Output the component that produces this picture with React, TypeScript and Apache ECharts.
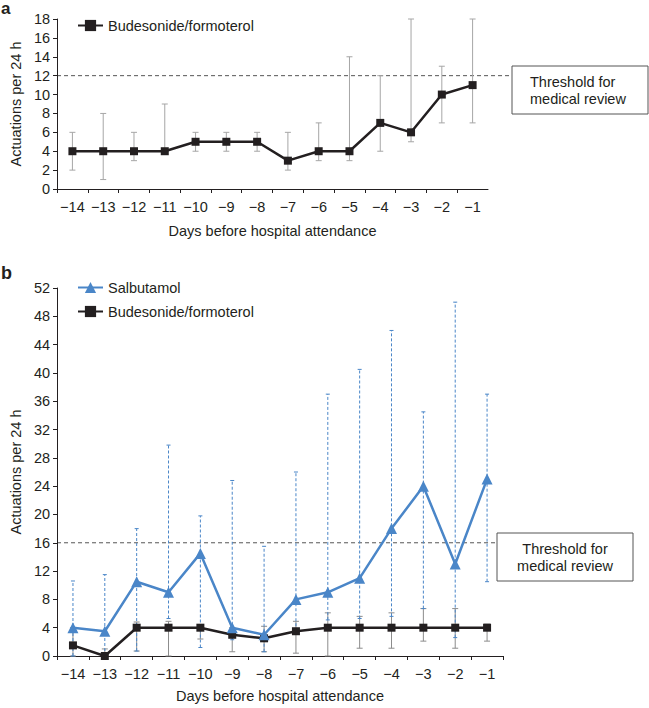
import React, { useEffect, useRef } from "react";
import * as echarts from "echarts";

const days = ["−14", "−13", "−12", "−11", "−10", "−9", "−8", "−7", "−6", "−5", "−4", "−3", "−2", "−1"];

// Panel a: budesonide/formoterol
const budA = [4, 4, 4, 4, 5, 5, 5, 3, 4, 4, 7, 6, 10, 11];
const budALow = [2, 1, 3, 4, 4, 4, 4, 2, 3, 3, 4, 5, 7, 7];
const budAHigh = [6, 8, 6, 9, 6, 6, 6, 6, 7, 14, 12, 18, 13, 18];
const thresholdA = 12;
const yTicksA = { min: 0, max: 18, interval: 2 };

// Panel b: salbutamol and budesonide/formoterol
const salB = [4, 3.5, 10.5, 9, 14.5, 4, 3, 8, 9, 11, 18, 24, 13, 25];
const salBLow = [0, 0, 0.7, 5.3, 1.2, 2.3, 0.6, 3.5, 5.1, 5.3, 5.6, 6.7, 2.6, 10.5];
const salBHigh = [10.6, 11.5, 18, 29.8, 19.8, 24.8, 15.5, 26, 37, 40.5, 46, 34.5, 50, 37];
const budB = [1.5, 0, 4, 4, 4, 3, 2.5, 3.5, 4, 4, 4, 4, 4, 4];
const budBLow = [0, 0, 0.7, 0, 2.4, 0.6, 0.6, 0.4, 0, 1.1, 1.1, 2.1, 1.1, 2.1];
const budBHigh = [4, 1, 4.8, 4.9, 4.4, 4, 4.2, 4.9, 6.1, 5.6, 6.1, 6.7, 6.7, 4.5];
const thresholdB = 16;
const yTicksB = { min: 0, max: 52, interval: 4 };

const SAL = "Salbutamol";
const BUD = "Budesonide/formoterol";
const FONT = "'Liberation Sans', Arial, Helvetica, sans-serif";
const TXT = "#231f20";
const BLUE = "#4a86c8";

function errData(lo: number[], hi: number[]) {
  return lo.map((l, i) => [i, l, hi[i]]);
}

function errSeries(name: string, idx: number, lo: number[], hi: number[], color: string, dashed: boolean, capW: number) {
  return {
    type: "custom",
    name: name + "-err",
    xAxisIndex: idx,
    yAxisIndex: idx,
    silent: true,
    z: 1,
    data: errData(lo, hi),
    encode: { x: 0, y: [1, 2] },
    renderItem: (params: any, api: any) => {
      const x = api.value(0);
      const p1 = api.coord([x, api.value(1)]);
      const p2 = api.coord([x, api.value(2)]);
      const style = { stroke: color, lineWidth: 1, lineDash: dashed ? [3, 2] : null };
      return {
        type: "group",
        children: [
          { type: "line", shape: { x1: p1[0], y1: p1[1], x2: p2[0], y2: p2[1] }, style },
          { type: "line", shape: { x1: p1[0] - capW, y1: p1[1], x2: p1[0] + capW, y2: p1[1] }, style: { stroke: color, lineWidth: 1 } },
          { type: "line", shape: { x1: p2[0] - capW, y1: p2[1], x2: p2[0] + capW, y2: p2[1] }, style: { stroke: color, lineWidth: 1 } },
        ],
      };
    },
  };
}

function thresholdSeries(idx: number, value: number, endX: number) {
  return {
    type: "custom",
    name: "threshold" + idx,
    xAxisIndex: idx,
    yAxisIndex: idx,
    silent: true,
    z: 0,
    data: [[0, value]],
    encode: { x: 0, y: 1 },
    renderItem: (params: any, api: any) => {
      const p = api.coord([0, api.value(1)]);
      const cs = params.coordSys;
      return {
        type: "line",
        shape: { x1: cs.x, y1: p[1], x2: endX, y2: p[1] },
        style: { stroke: "#555", lineWidth: 1, lineDash: [4, 3] },
      };
    },
  };
}

function xAxisCfg(idx: number, nameGap: number) {
  return {
    type: "category",
    gridIndex: idx,
    data: days,
    boundaryGap: true,
    name: "Days before hospital attendance",
    nameLocation: "middle",
    nameGap,
    nameTextStyle: { fontFamily: FONT, fontSize: 14.5, color: TXT },
    axisLine: { lineStyle: { color: TXT, width: 1 } },
    axisTick: { show: true, alignWithLabel: false, length: 4, lineStyle: { color: TXT } },
    axisLabel: { fontFamily: FONT, fontSize: 14.5, color: TXT, margin: 10, interval: 0 },
    splitLine: { show: false },
  };
}

function yAxisCfg(idx: number, t: { min: number; max: number; interval: number }) {
  return {
    type: "value",
    gridIndex: idx,
    min: t.min,
    max: t.max,
    interval: t.interval,
    name: "Actuations per 24 h",
    nameLocation: "middle",
    nameGap: 32,
    nameTextStyle: { fontFamily: FONT, fontSize: 14.5, color: TXT },
    axisLine: { show: true, lineStyle: { color: TXT, width: 1 } },
    axisTick: { show: true, length: 4, lineStyle: { color: TXT } },
    axisLabel: { fontFamily: FONT, fontSize: 14.5, color: TXT, margin: 7 },
    splitLine: { show: false },
  };
}

function boxGraphic(x: number, y: number, w: number, h: number, textX: number, align: string) {
  return {
    type: "group",
    children: [
      { type: "rect", shape: { x, y, width: w, height: h }, style: { fill: "#fff", stroke: "#555", lineWidth: 1 } },
      {
        type: "text",
        x: textX,
        y: y + h / 2,
        style: {
          text: "Threshold for\nmedical review",
          fontFamily: FONT,
          fontSize: 14.5,
          fill: TXT,
          align,
          verticalAlign: "middle",
          lineHeight: 17,
        },
      },
    ],
  };
}

export default function App() {
  const ref = useRef<HTMLDivElement>(null);
  useEffect(() => {
    if (!ref.current) return;
    const chart = echarts.init(ref.current, null, { renderer: "svg" });
    const option: any = {
      animation: false,
      backgroundColor: "#fff",
      grid: [
        { left: 52, top: 19, width: 436, height: 170 },
        { left: 52, top: 288, width: 451, height: 372 },
      ],
      xAxis: [xAxisCfg(0, 34), xAxisCfg(1, 32)],
      yAxis: [yAxisCfg(0, yTicksA), yAxisCfg(1, yTicksB)],
      legend: [
        {
          data: [BUD],
          left: 72,
          top: 13,
          itemWidth: 25,
          itemHeight: 14,
          textStyle: { fontFamily: FONT, fontSize: 14.5, color: TXT },
        },
        {
          data: [SAL, BUD],
          orient: "vertical",
          left: 72,
          top: 275,
          itemGap: 9,
          itemWidth: 25,
          itemHeight: 14,
          textStyle: { fontFamily: FONT, fontSize: 14.5, color: TXT },
        },
      ],
      graphic: [
        { type: "text", left: 1, top: 0, style: { text: "a", fontFamily: FONT, fontSize: 17, fontWeight: "bold", fill: TXT } },
        { type: "text", left: 1, top: 264, style: { text: "b", fontFamily: FONT, fontSize: 18, fontWeight: "bold", fill: TXT } },
        boxGraphic(512, 66, 136, 48, 530, "left"),
        boxGraphic(497, 533, 136, 48, 565, "center"),
      ],
      series: [
        thresholdSeries(0, thresholdA, 512),
        thresholdSeries(1, thresholdB, 497),
        errSeries("budA", 0, budALow, budAHigh, "#a6a6a6", false, 3),
        {
          type: "line",
          name: BUD,
          xAxisIndex: 0,
          yAxisIndex: 0,
          data: budA,
          symbol: "rect",
          symbolSize: 8,
          color: TXT,
          itemStyle: { color: TXT },
          lineStyle: { color: TXT, width: 2.5 },
          z: 3,
        },
        errSeries("budB", 1, budBLow, budBHigh, "#8c8c8c", false, 3),
        errSeries("salB", 1, salBLow, salBHigh, BLUE, true, 2),
        {
          type: "line",
          name: BUD,
          xAxisIndex: 1,
          yAxisIndex: 1,
          data: budB,
          symbol: "rect",
          symbolSize: 8,
          color: TXT,
          itemStyle: { color: TXT },
          lineStyle: { color: TXT, width: 2.5 },
          z: 3,
        },
        {
          type: "line",
          name: SAL,
          xAxisIndex: 1,
          yAxisIndex: 1,
          data: salB,
          symbol: "triangle",
          symbolSize: 11,
          color: BLUE,
          itemStyle: { color: BLUE },
          lineStyle: { color: BLUE, width: 2.5 },
          z: 4,
        },
      ],
    };
    chart.setOption(option);
    return () => chart.dispose();
  }, []);
  return (
    <div
      ref={ref}
      style={{ position: "absolute", left: 0, top: 0, width: 649, height: 708, background: "#fff" }}
    />
  );
}
